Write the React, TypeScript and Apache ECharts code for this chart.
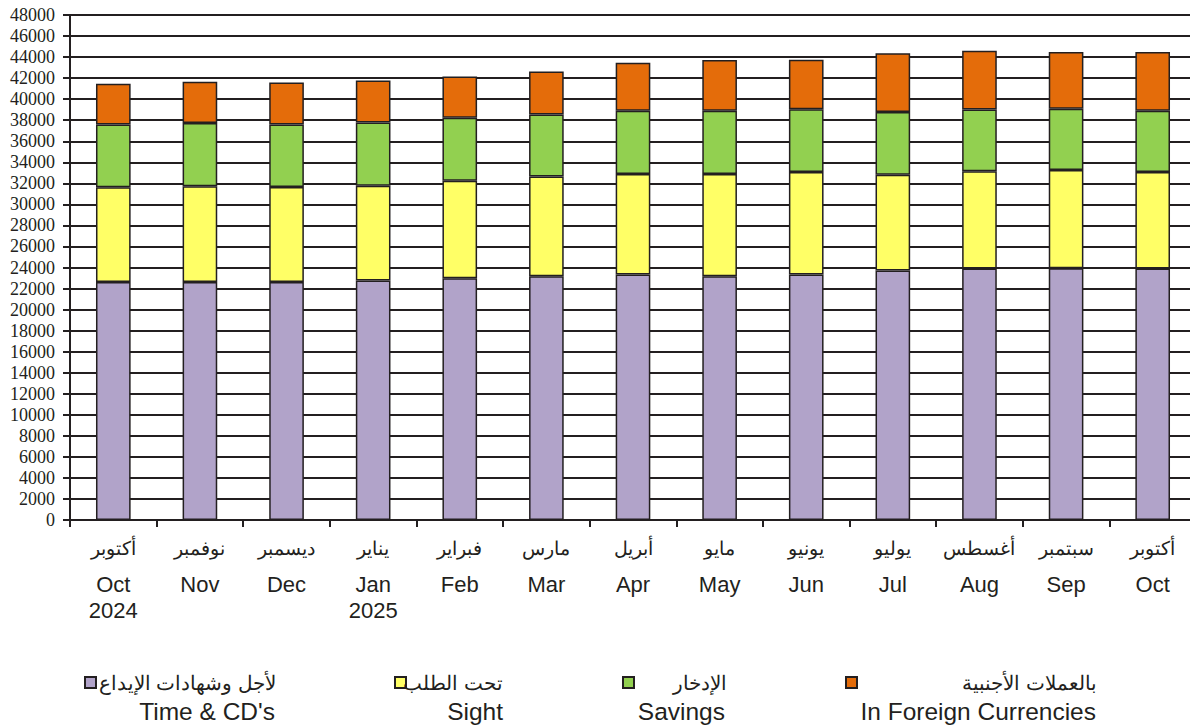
import React, { useEffect, useRef } from "react";
import * as echarts from "echarts";

const arabicMonths = ["أكتوبر", "نوفمبر", "ديسمبر", "يناير", "فبراير", "مارس", "أبريل", "مايو", "يونيو", "يوليو", "أغسطس", "سبتمبر", "أكتوبر"];
const englishMonths = ["Oct\n2024", "Nov", "Dec", "Jan\n2025", "Feb", "Mar", "Apr", "May", "Jun", "Jul", "Aug", "Sep", "Oct"];

const timeCDs = [22630, 22630, 22630, 22760, 22980, 23170, 23340, 23180, 23340, 23720, 23910, 23940, 23910];
const sight = [8990, 9085, 9020, 9020, 9270, 9490, 9540, 9700, 9730, 9100, 9250, 9320, 9160];
const savings = [5980, 6010, 5950, 6010, 5980, 5890, 6020, 6020, 5960, 5960, 5860, 5830, 5830];
const foreign = [3860, 3920, 3990, 3990, 3920, 4080, 4560, 4820, 4720, 5580, 5580, 5390, 5580];

const seriesArabic = ["لأجل وشهادات الإيداع", "تحت الطلب", "الإدخار", "بالعملات الأجنبية"];
const seriesEnglish = ["Time & CD's", "Sight", "Savings", "In Foreign Currencies"];
const seriesColors = ["#b1a3c9", "#ffff66", "#92d050", "#e46c0a"];

const INK = "#231f20";
const SANS = "Liberation Sans, Arial, sans-serif";
const SERIF = "serif";

export default function App() {
  const ref = useRef<HTMLDivElement>(null);
  useEffect(() => {
    if (!ref.current) return;
    const chart = echarts.init(ref.current, null, { renderer: "svg" });
    const data = [timeCDs, sight, savings, foreign];
    const markerX = [85, 395, 623, 846];
    const textRight = [276, 503, 727, 1097];
    const engRight = [275, 503, 725, 1096];
    const legendGraphics: any[] = [];
    for (let i = 0; i < 4; i++) {
      legendGraphics.push({
        type: "rect",
        shape: { x: markerX[i], y: 677, width: 11, height: 11 },
        style: { fill: seriesColors[i], stroke: INK, lineWidth: 2 },
      });
      legendGraphics.push({
        type: "text",
        x: textRight[i],
        y: 683,
        style: {
          text: seriesArabic[i],
          fill: INK,
          fontSize: 20,
          fontFamily: SANS,
          align: "right",
          verticalAlign: "middle",
        },
      });
      legendGraphics.push({
        type: "text",
        x: engRight[i],
        y: 711,
        style: {
          text: seriesEnglish[i],
          fill: INK,
          fontSize: 24.5,
          fontFamily: SANS,
          align: "right",
          verticalAlign: "middle",
        },
      });
    }
    chart.setOption({
      animation: false,
      grid: { left: 70, right: 2, top: 15, bottom: 208, containLabel: false },
      xAxis: {
        type: "category",
        data: englishMonths,
        boundaryGap: true,
        axisLine: { show: true, lineStyle: { color: INK, width: 2 } },
        axisTick: { show: true, length: 7, lineStyle: { color: INK, width: 2 } },
        axisLabel: {
          interval: 0,
          margin: 5,
          formatter: (v: string, idx: number) => {
            const parts = v.split("\n");
            return "{ar|" + arabicMonths[idx] + "}\n" + parts.map((p) => "{en|" + p + "}").join("\n");
          },
          rich: {
            ar: { fontSize: 19, fontFamily: SANS, color: INK, lineHeight: 46 },
            en: { fontSize: 22, fontFamily: SANS, color: INK, lineHeight: 26 },
          },
          verticalAlign: "top",
        },
      },
      yAxis: [
        {
          type: "value",
          min: 0,
          max: 48000,
          interval: 2000,
          axisLine: { show: true, lineStyle: { color: INK, width: 2 } },
          axisTick: { show: true, inside: false, length: 7, lineStyle: { color: INK, width: 2 } },
          axisLabel: {
            fontSize: 18,
            fontFamily: SERIF,
            color: INK,
            margin: 15,
            formatter: (v: number) => String(v),
          },
          splitLine: { show: true, lineStyle: { color: INK, width: 2 } },
        },
        {
          type: "value",
          min: 0,
          max: 48000,
          interval: 2000,
          position: "right",
          axisLine: { show: true, lineStyle: { color: INK, width: 2 } },
          axisTick: { show: false },
          axisLabel: { show: false },
          splitLine: { show: false },
        },
      ],
      series: data.map((d, i) => ({
        name: seriesEnglish[i],
        type: "bar",
        stack: "total",
        data: d,
        barWidth: "40%",
        itemStyle: { color: seriesColors[i], borderColor: INK, borderWidth: 1.5 },
      })),
      graphic: legendGraphics,
    });
    return () => chart.dispose();
  }, []);
  return <div ref={ref} style={{ width: 1198, height: 728, marginLeft: -8, marginTop: -8 }} />;
}
